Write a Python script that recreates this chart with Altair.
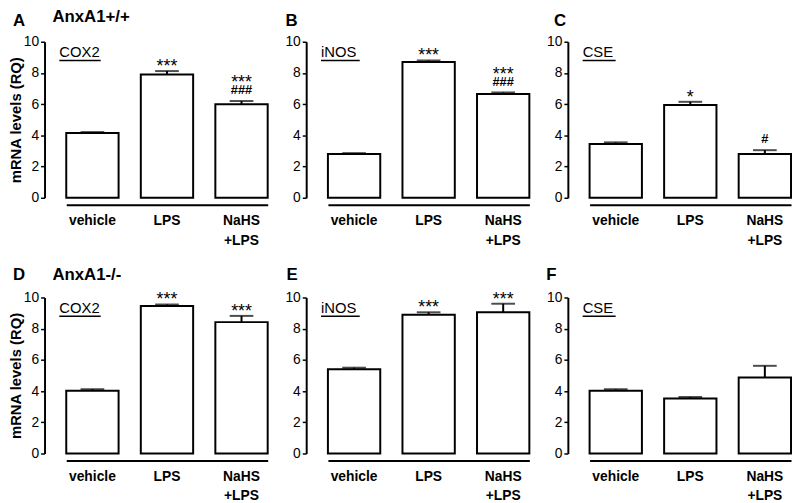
import altair as alt
import pandas as pd

# ---------------- data ----------------
categories = ["vehicle", "LPS", "NaHS+LPS"]
panel_letters = ["A", "B", "C", "D", "E", "F"]
gene_names = ["COX2", "iNOS", "CSE", "COX2", "iNOS", "CSE"]
genotypes = ["AnxA1+/+", "AnxA1-/-"]
y_ticks = [0, 2, 4, 6, 8, 10]
y_title = "mRNA levels (RQ)"

mean_A = [4.15, 7.9, 6.0]
sem_A = [0.06, 0.22, 0.2]
stars_A = ["", "***", "***"]
hashes_A = ["", "", "###"]

mean_B = [2.8, 8.7, 6.65]
sem_B = [0.06, 0.1, 0.1]
stars_B = ["", "***", "***"]
hashes_B = ["", "", "###"]

mean_C = [3.45, 5.95, 2.8]
sem_C = [0.1, 0.2, 0.25]
stars_C = ["", "*", ""]
hashes_C = ["", "", "#"]

mean_D = [4.02, 9.45, 8.42]
sem_D = [0.1, 0.1, 0.4]
stars_D = ["", "***", "***"]
hashes_D = ["", "", ""]

mean_E = [5.4, 8.9, 9.05]
sem_E = [0.1, 0.15, 0.55]
stars_E = ["", "***", "***"]
hashes_E = ["", "", ""]

mean_F = [4.02, 3.52, 4.87]
sem_F = [0.1, 0.1, 0.75]
stars_F = ["", "", ""]
hashes_F = ["", "", ""]

# ---------------- style ----------------
FONT = "Liberation Sans"
W, H = 204, 158
letter_dx = [-54, -43, -36, -54, -42, -44]
letter_y = [11.0, 11.0, 11.0, 11.15, 11.1, 11.1]
geno_y = [11.27, 11.15]
underline_frac = {"COX2": 0.79, "iNOS": 0.74, "CSE": 0.63}

xscale = alt.Scale(domain=categories, paddingInner=0.298, paddingOuter=0)
yscale = alt.Scale(domain=[0, 10], nice=False)


def make_panel(i, means, sems, stars, hashes):
    df = pd.DataFrame({"cat": categories, "mean": means, "sem": sems,
                       "stars": stars, "hashes": hashes})
    df["top"] = df["mean"] + df["sem"]
    first_col = (i % 3 == 0)
    lab = pd.DataFrame({"cat": [categories[0]], "gene": [gene_names[i]],
                        "letter": [panel_letters[i]],
                        "geno": [genotypes[i // 3] if first_col else ""]})

    yaxis = alt.Axis(values=y_ticks, grid=False, offset=22, tickSize=4,
                     tickWidth=1.5, tickColor="black", domainColor="black",
                     domainWidth=2, labelFont=FONT, labelFontSize=14,
                     labelColor="black", labelPadding=2,
                     title=y_title if first_col else None,
                     titleFont=FONT, titleFontSize=15, titleFontWeight="bold",
                     titleColor="black", titlePadding=0)
    xaxis = alt.Axis(title=None, ticks=False, domainWidth=2,
                     domainColor="black", labelAngle=0, labelFont=FONT,
                     labelFontSize=14, labelFontWeight="bold",
                     labelColor="black", labelPadding=9, offset=7,
                     labelBaseline="top", labelLineHeight=20,
                     labelExpr="datum.value == 'NaHS+LPS' ? ['NaHS', '+LPS'] : datum.value")

    xa = alt.X("cat:N", scale=xscale, axis=xaxis)
    xs = alt.X("cat:N", scale=xscale, axis=xaxis, bandPosition=0)

    def yq(field):
        return alt.Y(field, scale=yscale, axis=yaxis)

    def yd(v):
        return alt.YDatum(v, scale=yscale, axis=yaxis)

    base = alt.Chart(df)
    bars = base.mark_bar(fill="white", stroke="black", strokeWidth=2).encode(
        x=xa, y=yq("mean:Q"))
    err = base.mark_rule(color="black", strokeWidth=2).encode(
        x=xa, y=yq("mean:Q"), y2="top:Q")
    cap = base.mark_tick(color="black", thickness=2, size=24).encode(
        x=xa, y=yq("top:Q"))
    hash_txt = base.mark_text(font=FONT, fontSize=13, fontWeight="bold",
                              baseline="alphabetic", dy=-7, color="black").encode(
        x=xa, y=yq("top:Q"), text="hashes:N")
    star_alone = base.transform_filter("datum.hashes == ''").mark_text(
        font=FONT, fontSize=18, baseline="alphabetic", dy=1, color="black").encode(
        x=xa, y=yq("top:Q"), text="stars:N")
    star_above = base.transform_filter("datum.hashes != ''").mark_text(
        font=FONT, fontSize=18, baseline="alphabetic", dy=-13, color="black").encode(
        x=xa, y=yq("top:Q"), text="stars:N")

    lbase = alt.Chart(lab)
    gene = lbase.mark_text(font=FONT, fontSize=15, align="left",
                           baseline="alphabetic", dx=-7, color="black").encode(
        x=xs, y=yd(9.0), text="gene:N")
    uline = lbase.mark_rule(color="black", strokeWidth=1.6, xOffset=-7,
                            x2Offset=-7).encode(
        x=xs,
        x2=alt.X2("cat", bandPosition=underline_frac[gene_names[i]]),
        y=yd(8.8))
    letter = lbase.mark_text(font=FONT, fontSize=17, fontWeight="bold",
                             align="left", baseline="alphabetic",
                             dx=letter_dx[i], color="black").encode(
        x=xs, y=yd(letter_y[i]), text="letter:N")
    layers = [bars, err, cap, hash_txt, star_alone, star_above, gene, uline, letter]
    if first_col:
        geno = lbase.mark_text(font=FONT, fontSize=17, fontWeight="bold",
                               align="left", baseline="alphabetic", dx=-14,
                               color="black").encode(
            x=xs, y=yd(geno_y[i // 3]), text="geno:N")
        layers.append(geno)
    return alt.layer(*layers).properties(width=W, height=H)


panels = [
    make_panel(0, mean_A, sem_A, stars_A, hashes_A),
    make_panel(1, mean_B, sem_B, stars_B, hashes_B),
    make_panel(2, mean_C, sem_C, stars_C, hashes_C),
    make_panel(3, mean_D, sem_D, stars_D, hashes_D),
    make_panel(4, mean_E, sem_E, stars_E, hashes_E),
    make_panel(5, mean_F, sem_F, stars_F, hashes_F),
]

row1 = alt.hconcat(*panels[:3], spacing=61, bounds="flush")
row2 = alt.hconcat(*panels[3:], spacing=61, bounds="flush")
chart = alt.vconcat(row1, row2, spacing=18).properties(
    padding={"top": -4, "left": 0, "right": 0, "bottom": 0},
    background="white"
).configure_view(stroke=None)

chart.save("out.html", embed_options={"renderer": "svg", "actions": False})
